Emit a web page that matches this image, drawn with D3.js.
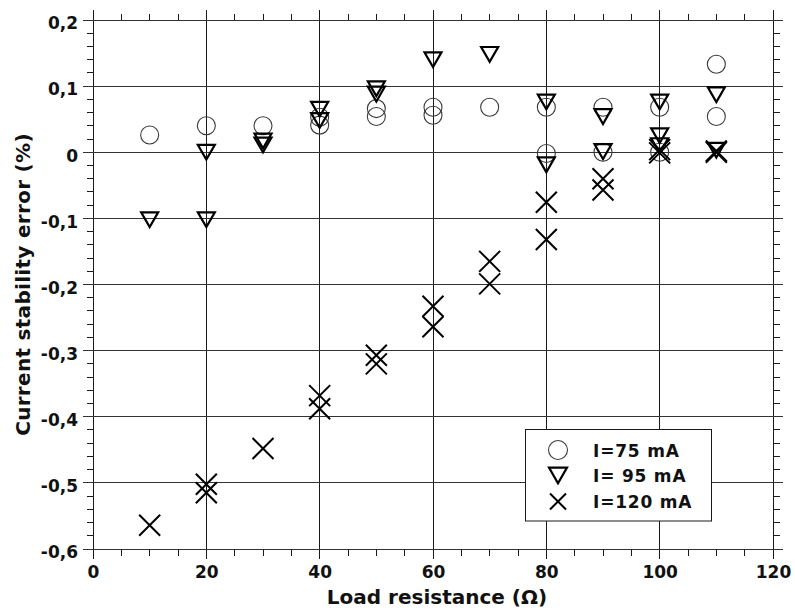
<!DOCTYPE html>
<html>
<head>
<meta charset="utf-8">
<script src="https://cdn.jsdelivr.net/npm/d3@7"></script>
<style>
  html, body { margin: 0; padding: 0; background: #fff; }
  svg { display: block; }
  text { font-family: "DejaVu Sans", Verdana, sans-serif; font-weight: bold; fill: #111; }
</style>
</head>
<body>
<svg id="chart" width="795" height="610"></svg>
<script>
// ---- data ----
const xTicks = [0, 20, 40, 60, 80, 100, 120];
const yTicks = [-0.6, -0.5, -0.4, -0.3, -0.2, -0.1, 0, 0.1, 0.2];
const xMinorTicks = d3.range(0, 120.001, 5);
const yMinorTicks = d3.range(-0.6, 0.2001, 0.02);

const seriesNames = ["I=75 mA", "I= 95 mA", "I=120 mA"];

const resistance75 = [10, 20, 30, 40, 40, 50, 50, 60, 60, 70, 80, 80, 90, 90, 100, 100, 110, 110];
const error75      = [0.026, 0.040, 0.040, 0.053, 0.041, 0.066, 0.054, 0.068, 0.056, 0.068, 0.068, -0.002, 0.068, 0.000, 0.068, 0.000, 0.133, 0.054];

const resistance95 = [10, 20, 20, 30, 30, 40, 40, 50, 50, 60, 70, 80, 80, 90, 90, 100, 100, 100, 110, 110];
const error95      = [-0.102, 0.000, -0.102, 0.017, 0.011, 0.065, 0.048, 0.096, 0.088, 0.140, 0.148, 0.076, -0.019, 0.054, 0.001, 0.076, 0.025, 0.010, 0.087, 0.003];

const resistance120 = [10, 20, 20, 30, 40, 40, 50, 50, 60, 60, 70, 70, 80, 80, 90, 90, 100, 100, 110, 110];
const error120      = [-0.564, -0.502, -0.515, -0.448, -0.368, -0.388, -0.307, -0.320, -0.233, -0.264, -0.165, -0.199, -0.0755, -0.132, -0.040, -0.057, 0.004, -0.001, 0.000, 0.002];

// ---- layout ----
const svg = d3.select("#chart");
const x = d3.scaleLinear().domain([0, 120]).range([93, 773]);
const y = d3.scaleLinear().domain([-0.6, 0.2]).range([549, 20]);
const ext = 10;      // major line overshoot
const minorLen = 6.5;

const fmtY = v => Math.abs(v) < 1e-9 ? "0" : (v < 0 ? "-" : "") + Math.abs(v).toFixed(1).replace(".", ",");
const fmtX = v => String(Math.round(v));

const grid = svg.append("g").attr("stroke", "#1a1a1a").attr("stroke-width", 1).attr("shape-rendering", "crispEdges");
// vertical major lines
grid.selectAll("line.v").data(xTicks).join("line")
  .attr("x1", d => x(d)).attr("x2", d => x(d))
  .attr("y1", y(0.2) - ext).attr("y2", y(-0.6) + ext);
// horizontal major lines
grid.selectAll("line.h").data(yTicks).join("line")
  .attr("y1", d => y(d)).attr("y2", d => y(d))
  .attr("x1", x(0) - ext).attr("x2", x(120) + ext)
  .attr("stroke", "#333");

// minor ticks
const minor = svg.append("g").attr("stroke", "#1a1a1a").attr("stroke-width", 1).attr("shape-rendering", "crispEdges");
const xm = xMinorTicks.filter(v => v % 20 !== 0);
const ym = yMinorTicks.filter(v => Math.abs(Math.round(v * 10) - v * 10) > 1e-6);
minor.selectAll("line.bt").data(xm).join("line")
  .attr("x1", d => x(d)).attr("x2", d => x(d)).attr("y1", y(-0.6)).attr("y2", y(-0.6) + minorLen);
minor.selectAll("line.tp").data(xm).join("line")
  .attr("x1", d => x(d)).attr("x2", d => x(d)).attr("y1", y(0.2)).attr("y2", y(0.2) - minorLen);
minor.selectAll("line.lf").data(ym).join("line")
  .attr("y1", d => y(d)).attr("y2", d => y(d)).attr("x1", x(0)).attr("x2", x(0) - minorLen);
minor.selectAll("line.rt").data(ym).join("line")
  .attr("y1", d => y(d)).attr("y2", d => y(d)).attr("x1", x(120)).attr("x2", x(120) + minorLen);

// axes (labels)
const yAxis = d3.axisLeft(y).tickValues(yTicks).tickFormat(fmtY).tickSize(0).tickPadding(15);
const gy = svg.append("g").attr("transform", `translate(${x(0)},0)`).call(yAxis);
gy.select(".domain").remove();
gy.selectAll("text").attr("font-size", 17).attr("dy", "0.52em")
  .style("font-family", '"DejaVu Sans", Verdana, sans-serif').style("font-weight", "bold").attr("fill", "#111");

const xAxis = d3.axisBottom(x).tickValues(xTicks).tickFormat(fmtX).tickSize(0).tickPadding(17);
const gx = svg.append("g").attr("transform", `translate(0,${y(-0.6)})`).call(xAxis);
gx.select(".domain").remove();
gx.selectAll("text").attr("font-size", 17).attr("dy", "0.71em")
  .style("font-family", '"DejaVu Sans", Verdana, sans-serif').style("font-weight", "bold").attr("fill", "#111");

// axis titles
svg.append("text").attr("x", (x(0) + x(120)) / 2 + 4).attr("y", 604)
  .attr("text-anchor", "middle").attr("font-size", 20).text("Load resistance (Ω)");
svg.append("text")
  .attr("transform", `translate(30,${(y(0.2) + y(-0.6)) / 2}) rotate(-90)`)
  .attr("text-anchor", "middle").attr("font-size", 20).attr("letter-spacing", 0.3).text("Current stability error (%)");

// ---- symbols ----
const circleType = { draw(ctx, size) { const r = Math.sqrt(size); ctx.moveTo(r, 0); ctx.arc(0, 0, r, 0, 2 * Math.PI); } };
const triType = { draw(ctx, size) { const w = Math.sqrt(size); const h = w * 0.87;
  ctx.moveTo(-w / 2, -h / 2); ctx.lineTo(w / 2, -h / 2); ctx.lineTo(0, h / 2); ctx.closePath(); } };
const xType = { draw(ctx, size) { const s = Math.sqrt(size) / 2;
  ctx.moveTo(-s, -s); ctx.lineTo(s, s); ctx.moveTo(s, -s); ctx.lineTo(-s, s); } };

const circlePath = d3.symbol().type(circleType).size(81)();
const triPath = d3.symbol().type(triType).size(17 * 17)();
const xPath = d3.symbol().type(xType).size(21 * 21)();

const pts = (xs, ys) => xs.map((v, i) => [v, ys[i]]);

svg.append("g").selectAll("path").data(pts(resistance75, error75)).join("path")
  .attr("d", circlePath).attr("transform", d => `translate(${x(d[0])},${y(d[1])})`)
  .attr("fill", "none").attr("stroke", "#3a3a3a").attr("stroke-width", 1.1);

svg.append("g").selectAll("path").data(pts(resistance95, error95)).join("path")
  .attr("d", triPath).attr("transform", d => `translate(${x(d[0])},${y(d[1])})`)
  .attr("fill", "none").attr("stroke", "#000").attr("stroke-width", 2.2).attr("stroke-linejoin", "miter");

svg.append("g").selectAll("path").data(pts(resistance120, error120)).join("path")
  .attr("d", xPath).attr("transform", d => `translate(${x(d[0])},${y(d[1])})`)
  .attr("fill", "none").attr("stroke", "#000").attr("stroke-width", 2);

// ---- legend ----
const lg = svg.append("g");
lg.append("rect").attr("x", 525.5).attr("y", 429.5).attr("width", 186).attr("height", 91.5)
  .attr("fill", "#fff").attr("stroke", "#1a1a1a").attr("stroke-width", 1);
const legendPaths = [
  { d: d3.symbol().type(circleType).size(90)(), stroke: "#3a3a3a", w: 1.1 },
  { d: d3.symbol().type(triType).size(18 * 18)(), stroke: "#000", w: 2.2 },
  { d: d3.symbol().type(xType).size(16 * 16)(), stroke: "#000", w: 2 }
];
const legendY = [450, 475.5, 501.5];
seriesNames.forEach((name, i) => {
  lg.append("path").attr("d", legendPaths[i].d).attr("transform", `translate(558,${legendY[i]})`)
    .attr("fill", "none").attr("stroke", legendPaths[i].stroke).attr("stroke-width", legendPaths[i].w);
  lg.append("text").attr("x", 593).attr("y", legendY[i] + 6.5).attr("font-size", 17)
    .attr("letter-spacing", 0.8).text(name);
});
</script>
</body>
</html>
